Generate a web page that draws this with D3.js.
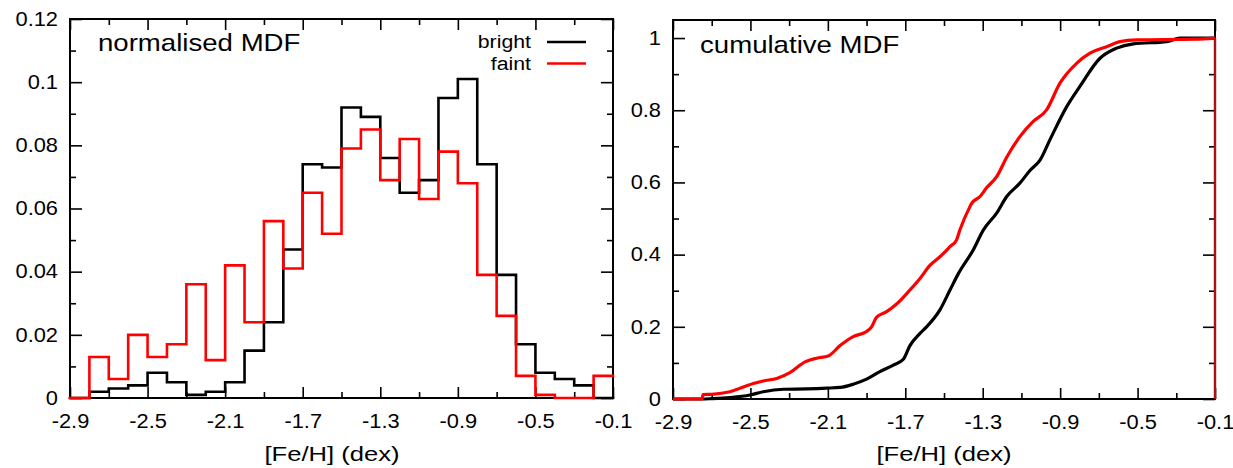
<!DOCTYPE html>
<html>
<head>
<meta charset="utf-8">
<script src="https://cdn.jsdelivr.net/npm/d3@7"></script>
<style>
  body { margin: 0; background: #fff; }
  svg { display: block; }
  text { font-family: "Liberation Sans", Arial, Helvetica, sans-serif; fill: #000; }
</style>
</head>
<body>
<svg id="chart" width="1233" height="468"></svg>
<script>
// ---------- data ----------
const binEdges = [-2.9,-2.8,-2.7,-2.6,-2.5,-2.4,-2.3,-2.2,-2.1,-2.0,-1.9,-1.8,-1.7,-1.6,-1.5,-1.4,-1.3,-1.2,-1.1,-1.0,-0.9,-0.8,-0.7,-0.6,-0.5,-0.4,-0.3,-0.2];
const binWidth = 0.1;
const brightMDF = [0,0.002,0.003,0.004,0.008,0.005,0.001,0.002,0.005,0.015,0.024,0.047,0.074,0.073,0.092,0.089,0.076,0.065,0.069,0.095,0.101,0.074,0.039,0.017,0.008,0.006,0.004,0];
const faintMDF  = [0,0.013,0.006,0.020,0.013,0.017,0.036,0.012,0.042,0.024,0.056,0.041,0.065,0.052,0.079,0.085,0.069,0.082,0.063,0.078,0.068,0.039,0.026,0.007,0.001,0,0,0.007];

const brightCumX = [-2.9,-2.75,-2.7,-2.606,-2.502,-2.434,-2.33,-2.21,-2.106,-2.037,-1.969,-1.9,-1.831,-1.762,-1.71,-1.676,-1.624,-1.59,-1.521,-1.469,-1.425,-1.349,-1.297,-1.228,-1.176,-1.108,-1.056,-1.004,-0.953,-0.866,-0.798,-0.694,-0.608,-0.522,-0.35,-0.281,-0.1];
const brightCumY = [0,0,0.001,0.004,0.011,0.02,0.027,0.028,0.03,0.032,0.041,0.055,0.076,0.094,0.11,0.148,0.182,0.2,0.247,0.302,0.348,0.413,0.468,0.515,0.561,0.598,0.633,0.662,0.718,0.81,0.866,0.944,0.972,0.984,0.99,1.0,1.0];
const faintCumX = [-2.9,-2.75,-2.745,-2.7,-2.606,-2.485,-2.434,-2.364,-2.296,-2.218,-2.158,-2.098,-2.037,-1.969,-1.9,-1.874,-1.849,-1.796,-1.745,-1.676,-1.624,-1.573,-1.521,-1.469,-1.435,-1.418,-1.366,-1.357,-1.314,-1.28,-1.228,-1.176,-1.108,-1.039,-0.97,-0.901,-0.815,-0.746,-0.66,-0.591,-0.505,-0.2,-0.1];
const faintCumY = [0,0,0.012,0.013,0.02,0.043,0.05,0.057,0.073,0.103,0.113,0.119,0.148,0.173,0.187,0.2,0.226,0.242,0.263,0.302,0.334,0.37,0.394,0.422,0.441,0.468,0.533,0.542,0.561,0.585,0.616,0.67,0.727,0.769,0.801,0.875,0.93,0.958,0.976,0.99,0.995,0.997,1.0];

const xMajorTicks = [-2.9,-2.5,-2.1,-1.7,-1.3,-0.9,-0.5,-0.1];
const xMinorTicks = [-2.7,-2.3,-1.9,-1.5,-1.1,-0.7,-0.3];
const yMajorLeft = [0,0.02,0.04,0.06,0.08,0.1,0.12];
const yMinorLeft = [0.01,0.03,0.05,0.07,0.09,0.11];
const yMajorRight = [0,0.2,0.4,0.6,0.8,1];
const yMinorRight = [0.1,0.3,0.5,0.7,0.9];

const seriesNames = ["bright","faint"];
const seriesColors = ["#000000","#ff0000"];
const xLabel = "[Fe/H] (dex)";
const titles = ["normalised MDF","cumulative MDF"];

// ---------- layout ----------
const svg = d3.select("#chart");
const fmt = d => String(+d.toFixed(3));

function panel(box, yDomain, yMaj, yMin, labelX) {
  const x = d3.scaleLinear().domain([-2.9,-0.1]).range([box.l, box.r]);
  const y = d3.scaleLinear().domain(yDomain).range([box.b, box.t]);
  const g = svg.append("g");
  g.append("g").attr("transform",`translate(0,${box.b})`)
    .call(d3.axisBottom(x).tickValues(xMajorTicks).tickSize(-11).tickPadding(16).tickFormat(fmt))
    .attr("class","lab");
  g.append("g").attr("transform",`translate(0,${box.b})`)
    .call(d3.axisBottom(x).tickValues(xMinorTicks).tickSize(-6).tickFormat(""));
  g.append("g").attr("transform",`translate(0,${box.t})`)
    .call(d3.axisTop(x).tickValues(xMajorTicks).tickSize(-11).tickFormat(""));
  g.append("g").attr("transform",`translate(0,${box.t})`)
    .call(d3.axisTop(x).tickValues(xMinorTicks).tickSize(-6).tickFormat(""));
  g.append("g").attr("transform",`translate(${box.l},0)`)
    .call(d3.axisLeft(y).tickValues(yMaj).tickSize(-12).tickPadding(12).tickFormat(fmt))
    .attr("class","lab");
  g.append("g").attr("transform",`translate(${box.l},0)`)
    .call(d3.axisLeft(y).tickValues(yMin).tickSize(-6).tickFormat(""));
  g.append("g").attr("transform",`translate(${box.r},0)`)
    .call(d3.axisRight(y).tickValues(yMaj).tickSize(-12).tickFormat(""));
  g.append("g").attr("transform",`translate(${box.r},0)`)
    .call(d3.axisRight(y).tickValues(yMin).tickSize(-6).tickFormat(""));
  g.selectAll(".domain").remove();
  g.selectAll(".tick line").attr("stroke","#000").attr("stroke-width",1.6);
  g.selectAll(".lab text").attr("font-size",19.5).attr("fill","#000")
    .attr("font-family","Liberation Sans, Arial, sans-serif");
  g.append("rect").attr("x",box.l).attr("y",box.t)
    .attr("width",box.r-box.l).attr("height",box.b-box.t)
    .attr("fill","none").attr("stroke","#000").attr("stroke-width",2);
  g.append("text").attr("x",labelX).attr("y",461)
    .attr("text-anchor","middle").attr("font-size",21).text(xLabel);
  return {x, y, g};
}

// ---------- left: histograms ----------
const L = panel({l:70, r:613, t:19, b:398}, [0,0.12], yMajorLeft, yMinorLeft, 332);
const histLine = d3.line().x(d => L.x(d[0])).y(d => L.y(d[1])).curve(d3.curveStepAfter);
[brightMDF, faintMDF].forEach((vals, si) => {
  const pts = binEdges.map((e,i) => [e, vals[i]]);
  pts.push([binEdges[binEdges.length-1] + binWidth, vals[vals.length-1]]);
  L.g.append("path").datum(pts).attr("d", histLine)
    .attr("fill","none").attr("stroke", seriesColors[si]).attr("stroke-width",2.6)
    .attr("stroke-linejoin","miter").attr("stroke-linecap","square");
});
L.g.append("text").attr("x",98).attr("y",51).attr("font-size",24).text(titles[0]);
seriesNames.forEach((n,i) => {
  const yy = 42 + i*21.5;
  L.g.append("text").attr("x",531).attr("y",yy+6.5).attr("text-anchor","end")
    .attr("font-size",19).text(n);
  L.g.append("line").attr("x1",547).attr("x2",586).attr("y1",yy).attr("y2",yy)
    .attr("stroke",seriesColors[i]).attr("stroke-width",2.6);
});

// ---------- right: cumulative ----------
const R = panel({l:673, r:1215, t:20, b:399}, [0,1.05], yMajorRight, yMinorRight, 944);
const cumLine = d3.line().x(d => R.x(d[0])).y(d => R.y(d[1])).curve(d3.curveMonotoneX);
const dropLine = d3.line().x(d => R.x(d[0])).y(d => R.y(d[1]));
[[brightCumX, brightCumY],[faintCumX, faintCumY]].forEach(([xs, ys], si) => {
  const pts = xs.map((v,i) => [v, ys[i]]);
  R.g.append("path").datum(pts).attr("d", cumLine)
    .attr("fill","none").attr("stroke", seriesColors[si]).attr("stroke-width",3.2)
    .attr("stroke-linejoin","round");
  const last = pts[pts.length-1];
  R.g.append("path").datum([last, [last[0], 0]]).attr("d", dropLine)
    .attr("fill","none").attr("stroke", si ? "#b01010" : "#000").attr("stroke-width",2.2);
});
R.g.append("text").attr("x",700).attr("y",53).attr("font-size",24).text(titles[1]);

// slight horizontal stretch of all text, as in the figure
svg.selectAll("text").each(function() {
  const t = d3.select(this);
  const ax = +t.attr("x") || 0;
  const fs = +t.attr("font-size") || 20;
  const s = fs >= 24 ? 1.15 : (fs >= 21 ? 1.22 : 1.12);
  t.attr("transform", `translate(${ax},0) scale(${s},1) translate(${-ax},0)`);
});
</script>
</body>
</html>
